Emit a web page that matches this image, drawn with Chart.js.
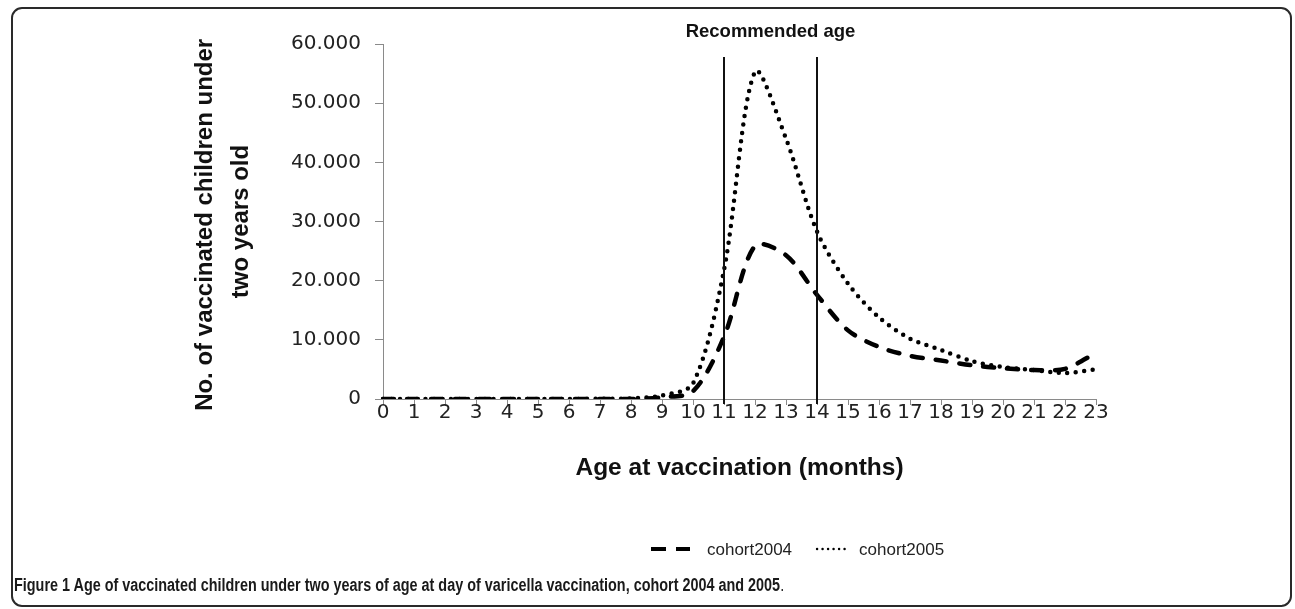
<!DOCTYPE html>
<html>
<head>
<meta charset="utf-8">
<script src="https://cdn.jsdelivr.net/npm/chart.js@4.4.1/dist/chart.umd.min.js"></script>
<style>
  html, body { margin: 0; padding: 0; background: #fff; }
  #wrap { position: relative; width: 1295px; height: 609px; overflow: hidden; }
  #chart { position: absolute; left: 0; top: 0; }
  #frame { position: absolute; left: 11px; top: 7px; width: 1281px; height: 600px; box-sizing: border-box;
           border: 2px solid #2a2a2a; border-radius: 11px; pointer-events: none; }
  #caption { position: absolute; left: 14px; top: 575px; white-space: nowrap; color: #1a1a1a;
             font-family: "Liberation Sans", Arial, sans-serif; font-size: 18px; font-weight: bold;
             transform: scaleX(0.8); transform-origin: left top; }
  #caption span { font-weight: normal; }
</style>
</head>
<body>
<div id="wrap">
  <canvas id="chart" width="1295" height="609"></canvas>
  <div id="frame"></div>
  <div id="caption">Figure 1 Age of vaccinated children under two years of age at day of varicella vaccination, cohort 2004 and 2005<span>.</span></div>
</div>
<script>
// age at vaccination, in months
var months = ['0', '1', '2', '3', '4', '5', '6', '7', '8', '9', '10', '11',
              '12', '13', '14', '15', '16', '17', '18', '19', '20', '21', '22', '23'];

// number of vaccinated children per month of age
var cohort2004 = [0, 0, 0, 0, 0, 0, 0, 0, 0, 300, 1300, 10500,
                  25900, 24300, 17600, 11600, 8800, 7300, 6500, 5700, 5200, 4900, 5100, 7800];
var cohort2005 = [0, 0, 0, 0, 0, 0, 0, 50, 100, 600, 2600, 21800,
                  55300, 44000, 28300, 19500, 13800, 10200, 8300, 6400, 5400, 4900, 4400, 5000];

// y axis ticks
var yTicks = [0, 10000, 20000, 30000, 40000, 50000, 60000];

// recommended age window
var recommendedAges = ['11', '14'];
var recommendedTop = 57800;
var recommendedLabel = 'Recommended age';

var xTitle = 'Age at vaccination (months)';
var yTitle = ['No. of vaccinated children under ', 'two years old'];

var tickFont = { family: '"DejaVu Sans", sans-serif', size: 20 };
var axisColor = '#8a8a8a';

// put a dot every 3 digits like the original (60.000)
function formatThousands(v) {
  return String(v).replace(/\B(?=(\d{3})+(?!\d))/g, '.');
}

// draws the recommended-age lines, their label and the legend
var extras = {
  id: 'extras',
  afterDatasetsDraw: function (chart) {
    var ctx = chart.ctx;
    var xs = chart.scales.x;
    var ys = chart.scales.y;
    ctx.save();
    ctx.strokeStyle = '#111';
    ctx.lineWidth = 2;
    ctx.setLineDash([]);
    var linesX = [];
    recommendedAges.forEach(function (age) {
      var px = Math.round(xs.getPixelForValue(months.indexOf(age)));
      linesX.push(px);
      ctx.beginPath();
      ctx.moveTo(px, ys.getPixelForValue(recommendedTop));
      ctx.lineTo(px, ys.bottom + 5);
      ctx.stroke();
    });
    ctx.fillStyle = '#111';
    ctx.font = 'bold 18.5px "Liberation Sans", Arial, sans-serif';
    ctx.textAlign = 'center';
    ctx.textBaseline = 'middle';
    ctx.fillText(recommendedLabel, (linesX[0] + linesX[1]) / 2, 32);
    ctx.restore();
  },
  afterDraw: function (chart) {
    var ctx = chart.ctx;
    ctx.save();
    // legend: line sample then label, for each cohort
    var legendY = 549;
    var cx = 650;
    var samples = [
      { w: 40, gap: 17, width: 4, dash: [15, 10], cap: 'butt' },
      { w: 33, gap: 10, width: 2.5, dash: [0, 5.5], cap: 'round' }
    ];
    ctx.font = '17px "Liberation Sans", Arial, sans-serif';
    chart.data.datasets.forEach(function (ds, i) {
      var s = samples[i];
      if (i > 0) cx += 24;
      ctx.strokeStyle = ds.borderColor;
      ctx.lineWidth = s.width;
      ctx.lineCap = s.cap;
      ctx.setLineDash(s.dash);
      ctx.beginPath();
      ctx.moveTo(cx + 1, legendY);
      ctx.lineTo(cx + s.w, legendY);
      ctx.stroke();
      cx += s.w + s.gap;
      ctx.fillStyle = '#222';
      ctx.textAlign = 'left';
      ctx.textBaseline = 'middle';
      ctx.fillText(ds.label, cx, legendY + 1);
      cx += ctx.measureText(ds.label).width;
    });
    ctx.restore();
  }
};

var ctx = document.getElementById('chart').getContext('2d');
var myChart = new Chart(ctx, {
  type: 'line',
  data: {
    labels: months,
    datasets: [{
      label: 'cohort2004',
      data: cohort2004,
      borderColor: '#000',
      borderWidth: 4.5,
      borderDash: [11, 13],
      borderCapStyle: 'round',
      pointRadius: 0,
      tension: 0.3,
      fill: false
    }, {
      label: 'cohort2005',
      data: cohort2005,
      borderColor: '#000',
      borderWidth: 4.5,
      borderDash: [0, 8.5],
      borderCapStyle: 'round',
      pointRadius: 0,
      tension: 0.3,
      fill: false
    }]
  },
  options: {
    responsive: false,
    animation: false,
    layout: { padding: { left: 12, top: 44, right: 199, bottom: 110 } },
    plugins: {
      legend: { display: false },
      title: { display: false },
      tooltip: { enabled: false }
    },
    scales: {
      x: {
        offset: false,
        grid: { drawOnChartArea: false, drawTicks: true, tickLength: 6, color: axisColor, offset: false },
        border: { color: axisColor, width: 1 },
        ticks: { font: tickFont, color: '#222', padding: -4, maxRotation: 0, autoSkip: false },
        title: {
          display: true,
          text: xTitle,
          color: '#111',
          font: { family: '"Liberation Sans", Arial, sans-serif', size: 24.5, weight: 'bold' },
          padding: { top: 0, bottom: 16 }
        },
        afterFit: function (scale) { scale.height = 100; }
      },
      y: {
        min: yTicks[0],
        max: yTicks[yTicks.length - 1],
        grid: { drawOnChartArea: false, drawTicks: true, tickLength: 8, color: axisColor },
        border: { color: axisColor, width: 1 },
        ticks: {
          stepSize: yTicks[1] - yTicks[0],
          font: tickFont,
          color: '#222',
          padding: 14,
          callback: function (v) { return formatThousands(v); }
        },
        title: {
          display: true,
          text: yTitle,
          color: '#111',
          font: { family: '"Liberation Sans", Arial, sans-serif', size: 24, weight: 'bold', lineHeight: 1.5 },
          padding: { top: 175, bottom: 0 }
        },
        afterFit: function (scale) { scale.width = 371; }
      }
    }
  },
  plugins: [extras]
});
</script>
</body>
</html>
